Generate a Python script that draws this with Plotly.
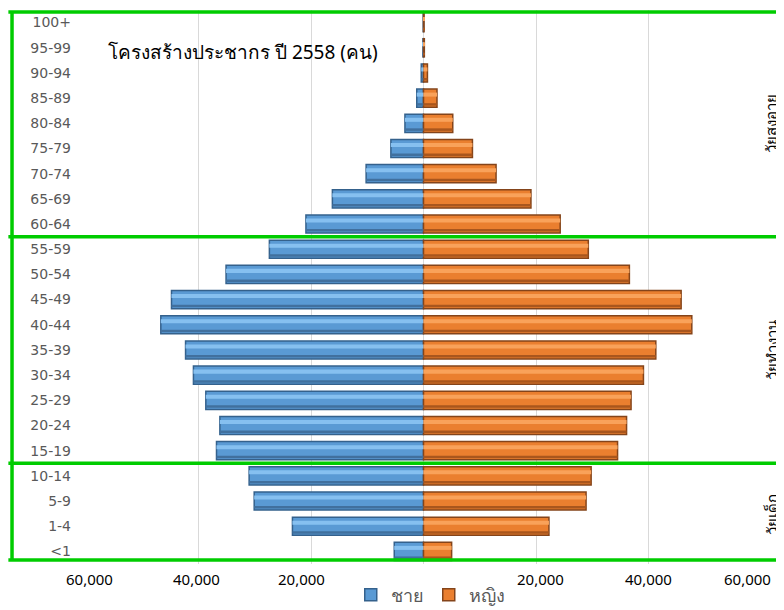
import plotly.graph_objects as go

# age groups, bottom to top
age_groups = ["<1", "1-4", "5-9", "10-14", "15-19", "20-24", "25-29", "30-34",
              "35-39", "40-44", "45-49", "50-54", "55-59", "60-64", "65-69",
              "70-74", "75-79", "80-84", "85-89", "90-94", "95-99", "100+"]

# number of people
male = [5200, 23300, 30100, 31000, 36800, 36200, 38700, 40900,
        42300, 46700, 44800, 35100, 27400, 20900, 16200,
        10200, 5800, 3300, 1200, 400, 100, 50]
female = [5000, 22300, 28900, 29800, 34500, 36100, 36900, 39100,
          41300, 47700, 45800, 36600, 29300, 24300, 19100,
          12900, 8700, 5200, 2400, 700, 150, 100]

tick_vals = [-60000, -40000, -20000, 20000, 40000, 60000]
tick_text = ["60,000", "40,000", "20,000", "20,000", "40,000", "60,000"]
tick_nudge = [3, -2, -10, 4, 0, -14]

group_labels = ["วัยสูงอายุ", "วัยทำงาน", "วัยเด็ก"]
group_centers = [17, 8, 1.5]

title_text = "โครงสร้างประชากร ปี 2558 (คน)"

male_x = [-v for v in male]

fig = go.Figure()
# base bars with dark rim
fig.add_trace(go.Bar(
    y=age_groups, x=male_x, orientation="h", name="ชาย",
    marker=dict(color="#5a9ad4", line=dict(color="#34618c", width=1.5)),
))
fig.add_trace(go.Bar(
    y=age_groups, x=female, orientation="h", name="หญิง",
    marker=dict(color="#ea7f2f", line=dict(color="#84441a", width=1.5)),
))
# bevel: light stripe on top, shade at the bottom
for xs, light, shade in [(male_x, "#86c0f0", "#41709e"),
                         (female, "#f9a25a", "#a9561d")]:
    fig.add_trace(go.Bar(y=age_groups, x=xs, orientation="h", showlegend=False,
                         width=0.16, offset=0.06, hoverinfo="skip",
                         marker=dict(color=light, line=dict(width=0))))
    fig.add_trace(go.Bar(y=age_groups, x=xs, orientation="h", showlegend=False,
                         width=0.1, offset=-0.3, hoverinfo="skip",
                         marker=dict(color=shade, line=dict(width=0))))

green = "#00cc00"
# boxes around the three age bands
fig.add_shape(type="line", xref="paper", yref="paper", x0=-0.115, x1=1.2,
              y0=0.9964, y1=0.9964, line=dict(color=green, width=3.5))
fig.add_shape(type="line", xref="paper", yref="paper", x0=-0.115, x1=1.2,
              y0=0.007, y1=0.007, line=dict(color=green, width=3.5))
fig.add_shape(type="line", xref="paper", yref="paper", x0=-0.1096, x1=-0.1096,
              y0=0.007, y1=0.9964, line=dict(color=green, width=3.5))
for yb in [12.5, 3.5]:
    fig.add_shape(type="line", xref="paper", yref="y", x0=-0.115, x1=1.2,
                  y0=yb, y1=yb, line=dict(color=green, width=3.5))

for lab, yc in zip(group_labels, group_centers):
    fig.add_annotation(text=lab, xref="paper", yref="y", x=1.034, y=yc,
                       textangle=-90, showarrow=False,
                       font=dict(size=15, color="black"))

for tv, tt, dx in zip(tick_vals, tick_text, tick_nudge):
    fig.add_annotation(text=tt, xref="x", yref="paper", x=tv, y=-0.027,
                       xshift=dx, showarrow=False, yanchor="middle",
                       font=dict(size=15, color="black"))

fig.add_annotation(text=title_text, xref="paper", yref="paper",
                   x=0.03, y=0.924, xanchor="left", yanchor="middle",
                   showarrow=False, font=dict(size=19, color="black"))

# page has an 8px body margin, so the figure is a bit smaller than the window
fig.update_layout(
    width=776, height=602,
    margin=dict(l=78, r=23, t=2, b=46, autoexpand=False),
    plot_bgcolor="white", paper_bgcolor="white",
    barmode="overlay", bargap=0.28,
    font=dict(family="Noto Sans, sans-serif"),
    showlegend=True,
    legend=dict(orientation="h", x=0.51, y=-0.056, xanchor="center",
                yanchor="middle", font=dict(size=18, color="#595959"),
                itemwidth=30),
    xaxis=dict(range=[-60000, 60000], tickvals=tick_vals, showticklabels=False,
               showgrid=True, gridcolor="#d9d9d9", gridwidth=1,
               zeroline=True, zerolinecolor="#d9d9d9", zerolinewidth=1,
               automargin=False),
    yaxis=dict(categoryorder="array", categoryarray=age_groups,
               tickfont=dict(size=14, color="#595959", family="DejaVu Sans"),
               ticklabelstandoff=14, showgrid=False, automargin=False),
)

fig.write_html("out.html")
